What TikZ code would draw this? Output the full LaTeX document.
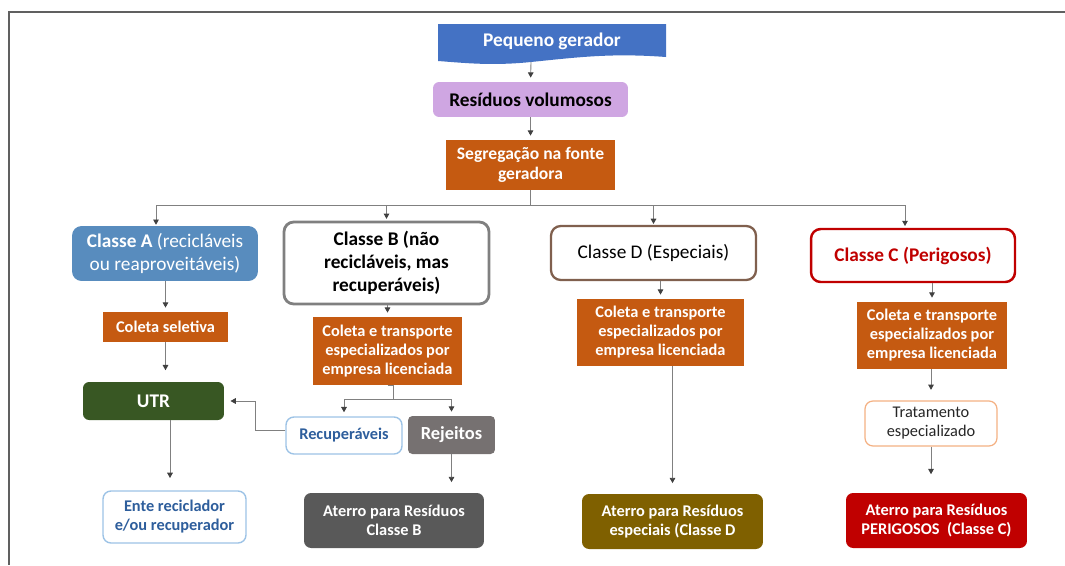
\documentclass[tikz,border=0pt]{standalone}
\usepackage{fontspec}
\setmainfont{Carlito}
\usepackage{xcolor}
\usetikzlibrary{arrows.meta, positioning, calc}
\definecolor{genblue}{RGB}{68,114,196}
\definecolor{lavender}{RGB}{207,166,226}
\definecolor{orangefill}{RGB}{197,90,17}
\definecolor{classblue}{RGB}{88,140,190}
\definecolor{bordergray}{RGB}{128,128,128}
\definecolor{brownline}{RGB}{128,96,78}
\definecolor{redline}{RGB}{192,0,0}
\definecolor{utrgreen}{RGB}{56,87,35}
\definecolor{lightblue}{RGB}{157,195,230}
\definecolor{textblue}{RGB}{46,94,156}
\definecolor{rejgray}{RGB}{118,113,113}
\definecolor{aterrogray}{RGB}{89,89,89}
\definecolor{aterroolive}{RGB}{127,96,0}
\definecolor{peach}{RGB}{244,177,131}
\definecolor{darktext}{RGB}{38,38,38}
\definecolor{linegray}{RGB}{128,128,128}
\definecolor{tipgray}{RGB}{64,64,64}
\definecolor{framegray}{RGB}{96,96,96}
\newcommand{\szbig}{\fontsize{11}{13}\selectfont}
\newcommand{\szmid}{\fontsize{10}{11.7}\selectfont}
\newcommand{\szsmall}{\fontsize{9.3}{10.8}\selectfont}
\tikzset{
  % box styles
  topbox/.style={rectangle, rounded corners=3.5pt, align=center, inner sep=2pt, font=\szbig\bfseries},
  classbox/.style={rectangle, rounded corners=5.5pt, align=center, inner sep=2pt, fill=white, font=\szbig},
  colbox/.style={rectangle, align=center, inner sep=2pt, fill=orangefill, text=white, font=\szsmall\bfseries},
  endbox/.style={rectangle, rounded corners=4pt, align=center, inner sep=2pt, fill=#1, text=white, font=\szsmall\bfseries},
  outlinebox/.style={rectangle, rounded corners=4.5pt, align=center, inner sep=2pt, draw=#1, line width=0.8pt, fill=white},
  % connector styles
  link/.style={draw=linegray, line width=0.5pt},
  arrow/.style={link, -{Triangle[length=3pt, width=3.2pt, color=tipgray]}, shorten >=2.3pt},
}
\begin{document}
\begin{tikzpicture}[x=0.02cm, y=-0.02cm]
  \useasboundingbox (0,0) rectangle (1065,565);
  % Frame
  \draw[framegray, line width=1.1pt] (1065,12) -- (9,12) -- (9,565);
  % Top: generator, waste, segregation
  \fill[genblue] (438,24) -- (666,24) -- (666,57) .. controls (612,53) and (580,57) .. (531,62)
    .. controls (492,66) and (465,63) .. (438,61) -- cycle;
  \node[font=\szbig\bfseries, text=white] (gerador) at (552,41) {Pequeno gerador};
  \coordinate (gerfoot) at (531,62);
  \node[topbox, fill=lavender, minimum width=3.9cm, minimum height=0.7cm] (residuos) at (530.5,99.5) {Resíduos volumosos};
  \node[colbox, font=\szmid\bfseries, minimum width=3.38cm, minimum height=1.0cm] (seg) at (530.5,165) {Segregação na fonte\\geradora};
  % Classes
  \node[classbox, fill=classblue, text=white, minimum width=3.72cm, minimum height=1.1cm] (classA) at (165,253.5) {\textbf{Classe A} (recicláveis\\ou reaproveitáveis)};
  \node[classbox, draw=bordergray, line width=1.6pt, font=\szbig\bfseries, minimum width=4.1cm, minimum height=1.64cm] (classB) at (386.5,263) {Classe B (não\\recicláveis, mas\\recuperáveis)};
  \node[classbox, draw=brownline, line width=1.3pt, minimum width=4.1cm, minimum height=1.08cm] (classD) at (653.5,253) {Classe D (Especiais)};
  \node[classbox, draw=redline, line width=1.4pt, text=redline, font=\szbig\bfseries, minimum width=4.08cm, minimum height=1.06cm] (classC) at (913,255.5) {Classe C (Perigosos)};
  % Collection
  \node[colbox, minimum width=2.5cm, minimum height=0.6cm] (colA) at (165.5,327) {Coleta seletiva};
  \node[colbox, minimum width=2.98cm, minimum height=1.36cm] (colB) at (387.5,351) {Coleta e transporte\\especializados por\\empresa licenciada};
  \node[colbox, minimum width=3.34cm, minimum height=1.34cm] (colD) at (660.5,332.5) {Coleta e transporte\\especializados por\\empresa licenciada};
  \node[colbox, minimum width=3.0cm, minimum height=1.34cm] (colC) at (932,335.5) {Coleta e transporte\\especializados por\\empresa licenciada};
  % Middle row
  \node[endbox=utrgreen, rounded corners=3.5pt, font=\szbig\bfseries, minimum width=2.82cm, minimum height=0.76cm] (utr) at (153.5,401) {UTR};
  \node[outlinebox=lightblue, text=textblue, font=\szsmall\bfseries, minimum width=2.32cm, minimum height=0.74cm] (recup) at (344,435.5) {Recuperáveis};
  \node[endbox=rejgray, rounded corners=2.5pt, font=\fontsize{10.5}{12}\selectfont\bfseries, minimum width=1.74cm, minimum height=0.76cm] (rejeitos) at (451.5,435) {Rejeitos};
  \node[outlinebox=peach, line width=0.7pt, text=darktext, font=\szsmall, minimum width=2.64cm, minimum height=0.9cm] (trat) at (931,423.5) {Tratamento\\especializado};
  % Destinations
  \node[outlinebox=lightblue, text=textblue, font=\szsmall\bfseries, minimum width=2.86cm, minimum height=1.04cm] (ente) at (174.5,517) {Ente reciclador\\e/ou recuperador};
  \node[endbox=aterrogray, minimum width=3.6cm, minimum height=1.1cm] (aterroB) at (394,520.5) {Aterro para Resíduos\\Classe B};
  \node[endbox=aterroolive, minimum width=3.62cm, minimum height=1.1cm] (aterroD) at (672.5,521.5) {Aterro para Resíduos\\especiais (Classe D};
  \node[endbox=redline, minimum width=3.62cm, minimum height=1.1cm] (aterroC) at (936.5,520.5) {Aterro para Resíduos\\PERIGOSOS\ \ (Classe C)};
  % Connectors: top
  \draw[arrow] (gerfoot) -- (residuos.north);
  \draw[arrow] (residuos.south) -- (seg.north);
  \coordinate (bus) at (530.5,205);
  \coordinate (busA) at (156,205);
  \coordinate (busC) at (905,205);
  \draw[link] (seg.south) -- (bus);
  \draw[arrow, shorten >=0.5pt] (bus) -| (busA |- classA.north);
  \draw[arrow, shorten >=1pt] (bus) -| (classB.north);
  \draw[arrow, shorten >=0.5pt] (bus) -| (classD.north);
  \draw[arrow, shorten >=1pt] (bus) -| (busC |- classC.north);
  % Connectors: class A
  \draw[arrow] (colA.north |- classA.south) -- (colA.north);
  \draw[arrow, shorten >=6.5pt] (colA.south) -- (colA.south |- utr.north);
  \coordinate (entetop) at ($(ente.north)+(-4.5,0)$);
  \draw[arrow, shorten >=7pt] (entetop |- utr.south) -- (entetop);
  % Connectors: class B
  \draw[arrow] (colB.north |- classB.south) -- (colB.north);
  \draw[link] (colB.south) -- ++(6,0) -- ++(0,14) coordinate (split);
  \draw[arrow] (split) -| (recup.north);
  \draw[arrow] (split) -| (rejeitos.north);
  \draw[arrow, shorten >=3.5pt] ($(recup.west)+(0,-5)$) -- ++(-30,0) |- (utr.east);
  \draw[arrow, shorten >=6pt] (rejeitos.south) -- (rejeitos.south |- aterroB.north);
  % Connectors: class D
  \draw[arrow] (colD.north |- classD.south) -- (colD.north);
  \draw[arrow, shorten >=6pt] (aterroD.north |- colD.south) -- (aterroD.north);
  % Connectors: class C
  \draw[arrow] (colC.north |- classC.south) -- (colC.north);
  \draw[arrow, shorten >=6pt] (trat.north |- colC.south) -- (trat.north);
  \draw[arrow, shorten >=10.5pt] (trat.south) -- (trat.south |- aterroC.north);
\end{tikzpicture}
\end{document}
